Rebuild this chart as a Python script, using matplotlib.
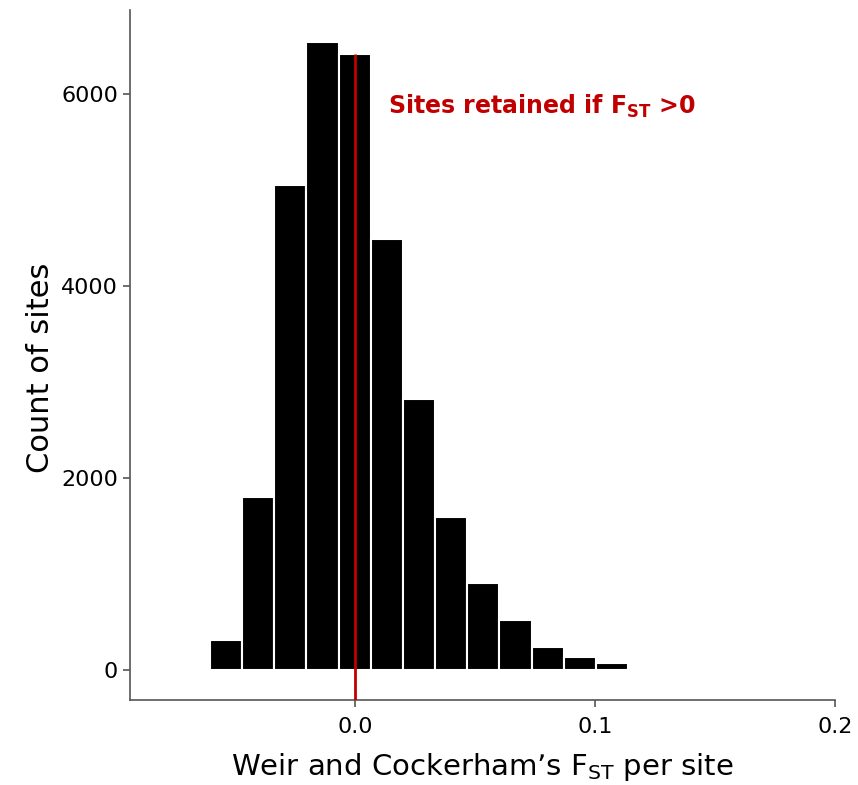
import matplotlib.pyplot as plt
import numpy as np

# histogram of per-site Fst
bin_left = [-0.0604, -0.0470, -0.0336, -0.0202, -0.0068, 0.0066, 0.0200,
            0.0334, 0.0468, 0.0602, 0.0736, 0.0870, 0.1004, 0.1138]
bin_width = 0.0134
counts = [312, 1803, 5054, 6544, 6419, 4491, 2824,
          1594, 907, 521, 240, 135, 73, 5]

y_ticks = [0, 2000, 4000, 6000]
x_ticks = [0.0, 0.1, 0.2]
cutoff = 0.0


def main():
    fig = plt.figure(figsize=(8.58, 7.85), dpi=100)
    ax = fig.add_axes([0.1515, 0.1083, 0.8217, 0.879])

    ax.bar(bin_left, counts, width=bin_width, align='edge',
           color='black', edgecolor='white', linewidth=1.5, zorder=2)

    ax.vlines(cutoff, -313, counts[4], color='#c00000', linewidth=2, zorder=3)
    ax.text(0.0137, 5870, r'Sites retained if F$_{\mathregular{ST}}$ >0',
            color='#c00000', fontsize=17, fontweight='bold', va='center')

    ax.set_xlim(-0.0937, 0.2)
    ax.set_ylim(-313, 6875)
    ax.set_xticks(x_ticks)
    ax.set_xticklabels([f'{t:.1f}' for t in x_ticks])
    ax.set_yticks(y_ticks)

    for side in ['top', 'right']:
        ax.spines[side].set_visible(False)
    for side in ['left', 'bottom']:
        ax.spines[side].set_color('#555555')
        ax.spines[side].set_linewidth(1.2)
    ax.tick_params(colors='#555555', labelcolor='black', labelsize=16,
                   length=5, width=1.2)
    ax.tick_params(axis='x', pad=7)

    ax.set_xlabel(r"Weir and Cockerham’s F$_{\mathregular{ST}}$ per site",
                  fontsize=21, labelpad=10)
    ax.set_ylabel('Count of sites', fontsize=22)
    ax.yaxis.set_label_coords(-0.106, 0.481)

    fig.savefig('out.png', dpi=100)


if __name__ == '__main__':
    main()
